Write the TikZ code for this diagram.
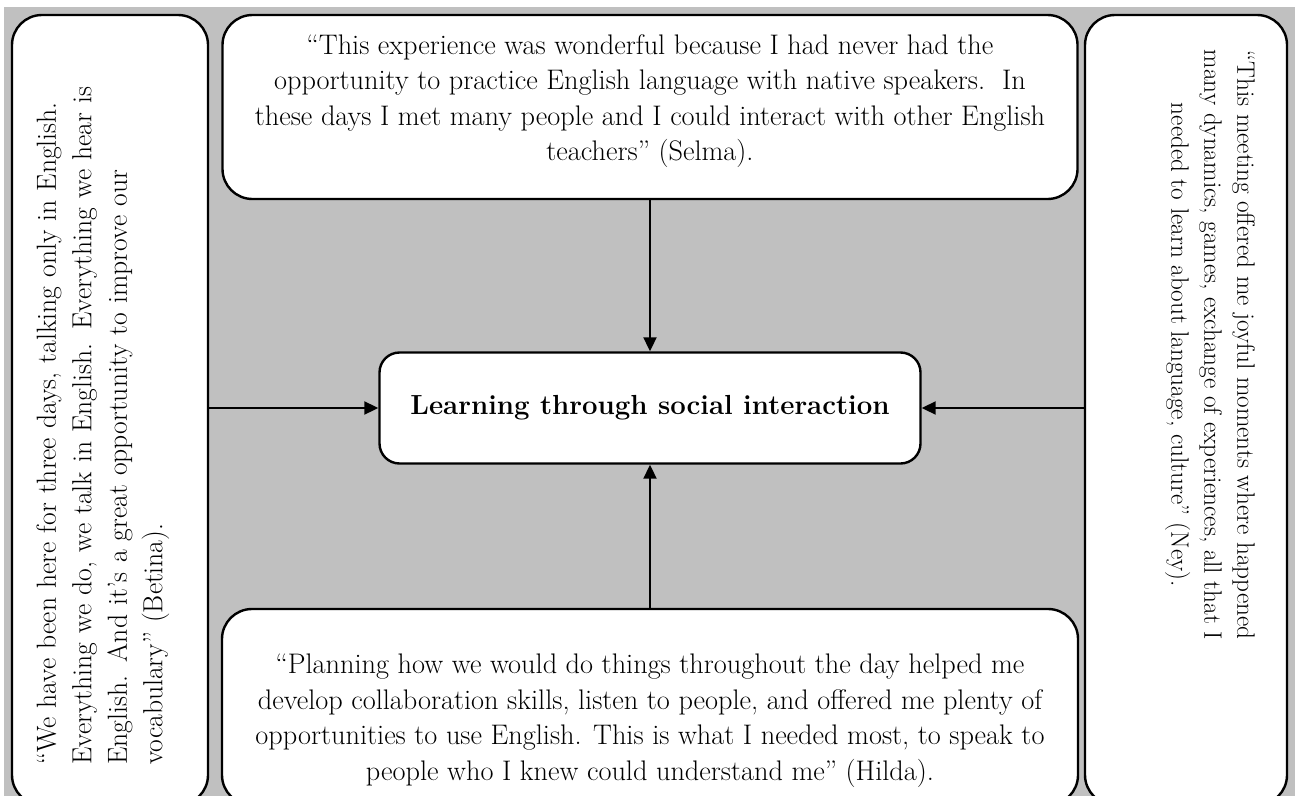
\documentclass[tikz,border=0pt]{standalone}
\usepackage{fontspec}
\usepackage{tikz}
\usetikzlibrary{arrows.meta,positioning}
\definecolor{panelgray}{RGB}{192,192,192}

\begin{document}
\begin{tikzpicture}[x=1pt,y=-1pt,on grid,
    card/.style={draw,line width=2.4pt,fill=white,rounded corners=30pt,inner sep=0pt},
    quote/.style={font=\fontsize{28.3}{35.5}\selectfont,inner sep=0pt},
    link/.style={line width=2pt,-{Triangle[length=14pt,width=13pt]}}]
  \useasboundingbox (0,0) rectangle (1295,795);
  \clip (0,0) rectangle (1295,795);
  \fill[panelgray] (4,7) rectangle (1300,800);

  \node[card,rounded corners=20pt,minimum width=541pt,minimum height=111pt,
        font=\fontsize{27.6}{30}\selectfont\bfseries] (hub) at (650,408) {Learning through social interaction};
  \node[card,minimum width=855pt,minimum height=184pt] (selma) [above=301pt of hub] {};
  \node[card,minimum width=856pt,minimum height=196pt] (hilda) [below=299pt of hub] {};
  \node[card,minimum width=196pt,minimum height=790pt] (betina) at (110,410) {};
  \node[card,minimum width=202pt,minimum height=790pt] (ney) at (1186,410) {};

  \node[quote,align=center] (selmatext) at ([yshift=6pt]selma.center)
    {“This experience was wonderful because I had never had the\\
     opportunity to practice English language with native speakers.\ \ In\\
     these days I met many people and I could interact with other English\\
     teachers” (Selma).};
  \node[quote,align=center] (hildatext) at ([yshift=-13.5pt]hilda.center)
    {“Planning how we would do things throughout the day helped me\\
     develop collaboration skills, listen to people, and offered me plenty of\\
     opportunities to use English. This is what I needed most, to speak to\\
     people who I knew could understand me” (Hilda).};
  \node[quote,font=\fontsize{27.6}{35.5}\selectfont,rotate=90,anchor=west,text width=720pt,align=left] (betinatext) at (103,765)
    {“We have been here for three days, talking only in English.\\
     Everything we do, we talk in English. Everything we hear is\\
     English. And it’s a great opportunity to improve our\\
     vocabulary” (Betina).};
  \node[quote,font=\fontsize{25.2}{33}\selectfont,rotate=-90,align=center] (neytext) at (1210,345)
    {“This meeting offered me joyful moments where happened\\
     many dynamics, games, exchange of experiences, all that I\\
     needed to learn about language, culture” (Ney).};

  \draw[link] (selma) -- (hub);
  \draw[link] (hilda) -- (hub);
  \draw[link] (betina.east |- hub) -- (hub.west);
  \draw[link] (ney.west |- hub) -- (hub.east);
\end{tikzpicture}
\end{document}
